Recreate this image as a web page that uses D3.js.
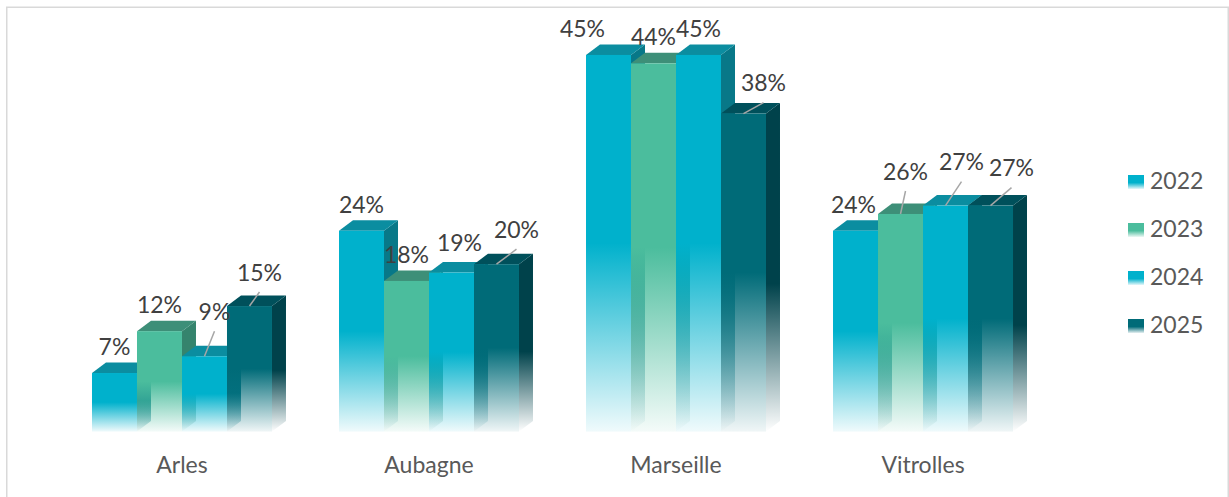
<!DOCTYPE html>
<html>
<head>
<meta charset="utf-8">
<script src="https://cdn.jsdelivr.net/npm/d3@7/dist/d3.min.js"></script>
<style>
  html, body { margin: 0; padding: 0; background: #ffffff; }
  svg { display: block; }
</style>
</head>
<body>
<svg id="chart" width="1229" height="497"></svg>
<script>
// Share by city and year
const categories = ["Arles", "Aubagne", "Marseille", "Vitrolles"];
const years = ["2022", "2023", "2024", "2025"];
const values2022 = [7, 24, 45, 24];
const values2023 = [12, 18, 44, 26];
const values2024 = [9, 19, 45, 27];
const values2025 = [15, 20, 38, 27];
const yDomain = [0, 50];

// Hand-placed label offsets (px) for crowded labels
const labelShift2022 = [[0, 0], [0, 0], [-26, 0], [-2, 0]];
const labelShift2023 = [[0, 0], [0, 0], [0, 0], [5, -16]];
const labelShift2024 = [[10, -18], [8, -3], [0, 0], [16, -17]];
const labelShift2025 = [[10, -7], [20, -8], [20, -4], [21, -11]];

const seriesValues = [values2022, values2023, values2024, values2025];
const labelShifts = [labelShift2022, labelShift2023, labelShift2024, labelShift2025];

// face colours per series: front, top, side
const palette = [
  { front: "#00b1cc", top: "#0b8da0", side: "#087888" },
  { front: "#4bbd9d", top: "#3d8f78", side: "#35846d" },
  { front: "#00b1cc", top: "#0b8da0", side: "#087888" },
  { front: "#006b78", top: "#00505b", side: "#00424b" }
];

const W = 1229, H = 497;
const depthX = 14, depthY = 10.5;
const fontStack = "Lato, 'Open Sans', 'DejaVu Sans', sans-serif";
const fontSize = 23;

const svg = d3.select("#chart");

svg.append("rect").attr("width", W).attr("height", H).attr("fill", "#ffffff");
// chart frame
svg.append("rect")
  .attr("x", 6.75).attr("y", 7.25)
  .attr("width", 1221.5).attr("height", 500)
  .attr("fill", "none").attr("stroke", "#d9d9d9").attr("stroke-width", 1.5);

const x0 = d3.scaleBand()
  .domain(categories)
  .range([58.5, 1046.5])
  .paddingInner(0.2713)
  .paddingOuter(0.1356);

const x1 = d3.scaleBand()
  .domain(years)
  .range([0, x0.bandwidth()])
  .padding(0);

const y = d3.scaleLinear().domain(yDomain).range([431.6, 431.6 - 50 * 8.37]);

const defs = svg.append("defs");
palette.forEach((p, i) => {
  const gf = defs.append("linearGradient").attr("id", "front" + i)
    .attr("x1", 0).attr("y1", 0).attr("x2", 0).attr("y2", 1);
  gf.append("stop").attr("offset", 0).attr("stop-color", p.front).attr("stop-opacity", 1);
  gf.append("stop").attr("offset", 0.5).attr("stop-color", p.front).attr("stop-opacity", 1);
  gf.append("stop").attr("offset", 1).attr("stop-color", p.front).attr("stop-opacity", 0.06);

  const gs = defs.append("linearGradient").attr("id", "side" + i)
    .attr("x1", 0).attr("y1", 0).attr("x2", 0).attr("y2", 1);
  gs.append("stop").attr("offset", 0).attr("stop-color", p.side).attr("stop-opacity", 1);
  gs.append("stop").attr("offset", 0.55).attr("stop-color", p.side).attr("stop-opacity", 1);
  gs.append("stop").attr("offset", 1).attr("stop-color", p.side).attr("stop-opacity", 0);

  const gl = defs.append("linearGradient").attr("id", "swatch" + i)
    .attr("x1", 0).attr("y1", 0).attr("x2", 0).attr("y2", 1);
  gl.append("stop").attr("offset", 0).attr("stop-color", p.front).attr("stop-opacity", 1);
  gl.append("stop").attr("offset", 0.55).attr("stop-color", p.front).attr("stop-opacity", 1);
  gl.append("stop").attr("offset", 1).attr("stop-color", p.front).attr("stop-opacity", 0.1);
});

// build bar records
const bars = [];
categories.forEach((c, ci) => {
  years.forEach((yr, si) => {
    const v = seriesValues[si][ci];
    const xl = x0(c) + x1(yr);
    bars.push({
      cat: c, year: yr, si, ci, value: v,
      x: xl, w: x1.bandwidth(), top: y(v), base: y(0)
    });
  });
});

const gBars = svg.append("g");
bars.forEach(b => {
  const g = gBars.append("g");
  const xr = b.x + b.w;
  // right side face
  g.append("polygon")
    .attr("points", [
      [xr, b.top], [xr + depthX, b.top - depthY],
      [xr + depthX, b.base - depthY], [xr, b.base]
    ].map(p => p.join(",")).join(" "))
    .attr("fill", `url(#side${b.si})`);
  // top face
  g.append("polygon")
    .attr("points", [
      [b.x, b.top], [b.x + depthX, b.top - depthY],
      [xr + depthX, b.top - depthY], [xr, b.top]
    ].map(p => p.join(",")).join(" "))
    .attr("fill", palette[b.si].top);
  // front face
  g.append("rect")
    .attr("x", b.x).attr("y", b.top)
    .attr("width", b.w).attr("height", b.base - b.top)
    .attr("fill", `url(#front${b.si})`);
});

// value labels with leader lines for moved labels
const gLabels = svg.append("g");
bars.forEach(b => {
  const [dx, dy] = labelShifts[b.si][b.ci];
  const cx = b.x + b.w / 2;
  const lx = cx + dx;
  const ly = b.top - 26.5 + dy;
  if (dx >= 0 && Math.hypot(dx, dy) > 10) {
    gLabels.append("line")
      .attr("x1", cx).attr("y1", b.top)
      .attr("x2", lx).attr("y2", ly + 19.5)
      .attr("stroke", "#a6a6a6").attr("stroke-width", 1.5);
  }
  gLabels.append("text")
    .attr("x", lx).attr("y", ly + 8.3)
    .attr("text-anchor", "middle")
    .attr("font-family", fontStack)
    .attr("font-size", fontSize)
    .attr("fill", "#404040")
    .text(b.value + "%");
});

// category axis labels
svg.append("g").selectAll("text")
  .data(categories)
  .join("text")
  .attr("x", d => x0(d) + x0.bandwidth() / 2)
  .attr("y", 472.5)
  .attr("text-anchor", "middle")
  .attr("font-family", fontStack)
  .attr("font-size", fontSize)
  .attr("fill", "#595959")
  .text(d => d);

// legend
const legend = svg.append("g");
years.forEach((yr, i) => {
  const cy = 181 + i * 48;
  legend.append("rect")
    .attr("x", 1128).attr("y", cy - 6)
    .attr("width", 16).attr("height", 14)
    .attr("fill", `url(#swatch${i})`);
  legend.append("text")
    .attr("x", 1150).attr("y", cy + 8.3)
    .attr("font-family", fontStack)
    .attr("font-size", fontSize)
    .attr("fill", "#595959")
    .text(yr);
});
</script>
</body>
</html>
